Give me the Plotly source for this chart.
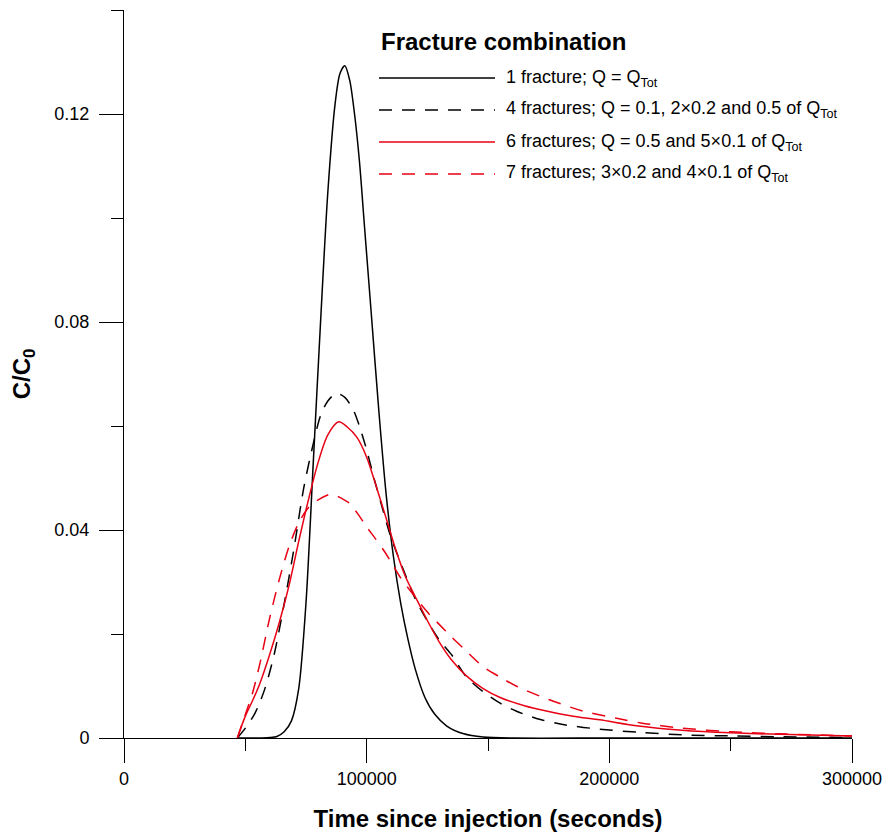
import plotly.graph_objects as go

# ---------------- data ----------------
x_1frac = [47000, 55000, 60000, 63000, 66000, 69000, 72000, 75000, 78000, 81000, 84000, 87000, 89000, 91000,
           93000, 95000, 97000, 99000, 102000, 105000, 108000, 111000, 114000, 117000, 120000, 124000, 128000,
           133000, 140000, 148000, 160000, 200000, 250000, 300000]
y_1frac = [0, 0, 0.0001, 0.0003, 0.0012, 0.0033, 0.0095, 0.026, 0.053, 0.080, 0.105, 0.122, 0.1278, 0.1293,
           0.1265, 0.120, 0.111, 0.099, 0.081, 0.063, 0.047, 0.035, 0.026, 0.019, 0.0133, 0.0078, 0.0046,
           0.0023, 0.0008, 0.0002, 0, 0, 0, 0]

x_4frac = [46700, 50000, 54000, 58000, 62000, 66000, 70000, 74000, 78000, 81000, 84000, 87500, 91000, 94500,
           97000, 100000, 103000, 106000, 110000, 115000, 120000, 125000, 130000, 135000, 141000, 148000,
           155000, 162000, 172000, 182000, 196000, 212000, 230000, 250000, 270000, 300000]
y_4frac = [0, 0.0019, 0.0048, 0.0094, 0.0163, 0.0258, 0.0363, 0.0479, 0.0566, 0.062, 0.0648, 0.0663, 0.0655,
           0.0631, 0.060, 0.0554, 0.050, 0.045, 0.0386, 0.0325, 0.0268, 0.0225, 0.0188, 0.016, 0.0118, 0.0089,
           0.0067, 0.0051, 0.0035, 0.0025, 0.0017, 0.0011, 0.0006, 0.0004, 0.00025, 0.0001]

x_6frac = [46700, 50000, 53000, 56000, 60000, 64000, 68000, 72000, 76000, 80000, 84000, 88500, 92000, 96000,
           100000, 104000, 108000, 112000, 116000, 120000, 125000, 130000, 135000, 141000, 148000, 155000,
           165000, 175000, 185000, 196000, 212000, 230000, 250000, 270000, 300000]
y_6frac = [0, 0.0042, 0.0072, 0.0105, 0.016, 0.0222, 0.0293, 0.0378, 0.0458, 0.053, 0.0583, 0.0608, 0.0598,
           0.0578, 0.054, 0.0483, 0.0423, 0.0362, 0.031, 0.0272, 0.0226, 0.0184, 0.015, 0.012, 0.0095,
           0.0078, 0.0062, 0.0051, 0.0042, 0.0035, 0.0023, 0.0015, 0.001, 0.0007, 0.0004]

x_7frac = [46700, 50000, 53000, 56000, 60000, 64000, 68000, 72000, 76000, 80000, 85500, 90000, 93000, 96500,
           100000, 103500, 107000, 110500, 114000, 118000, 122000, 126000, 130000, 135000, 140000, 148000,
           155000, 162000, 175000, 189000, 203000, 213000, 230000, 250000, 270000, 300000]
y_7frac = [0, 0.0045, 0.0087, 0.0143, 0.023, 0.0305, 0.0368, 0.0414, 0.0443, 0.0458, 0.0469, 0.046, 0.0451,
           0.043, 0.0406, 0.0384, 0.0361, 0.0335, 0.0308, 0.0283, 0.0259, 0.0237, 0.0218, 0.0194, 0.0172,
           0.0137, 0.0117, 0.0099, 0.0074, 0.0052, 0.0038, 0.0029, 0.0019, 0.0012, 0.0008, 0.0004]

series_names = [
    "1 fracture; Q = Q<sub>Tot</sub>",
    "4 fractures; Q = 0.1, 2×0.2 and 0.5 of Q<sub>Tot</sub>",
    "6 fractures; Q = 0.5 and 5×0.1 of Q<sub>Tot</sub>",
    "7 fractures; 3×0.2 and 4×0.1 of Q<sub>Tot</sub>",
]
legend_title = "Fracture combination"

x_ticks = [0, 100000, 200000, 300000]
y_ticks = [0, 0.04, 0.08, 0.12]

# ---------------- styling ----------------
RED = "rgb(232,0,20)"
BLACK = "black"
DASH = "13px,10px"
styles = [
    dict(color=BLACK, dash="solid"),
    dict(color=BLACK, dash=DASH),
    dict(color=RED, dash="solid"),
    dict(color=RED, dash=DASH),
]
FONT = "Liberation Sans, Arial, sans-serif"

fig = go.Figure()
for xs, ys, st, name in zip([x_1frac, x_4frac, x_6frac, x_7frac],
                            [y_1frac, y_4frac, y_6frac, y_7frac], styles, series_names):
    fig.add_trace(go.Scatter(x=xs, y=ys, mode="lines", name=name, showlegend=False,
                             line=dict(color=st["color"], dash=st["dash"], width=1.5,
                                       shape="spline", smoothing=0.8)))

W, H = 886, 838
L, R, T, B = 124, 34, 10, 100
pw, ph = W - L - R, H - T - B


def px_x(p):
    return (p - L) / pw


def px_y(p):
    return (H - B - p) / ph


# manual legend
shapes = []
annotations = [dict(x=px_x(379), y=px_y(42), xref="paper", yref="paper", text="<b>" + legend_title + "</b>",
                    showarrow=False, xanchor="left", yanchor="middle",
                    font=dict(family=FONT, size=24, color="black"))]
rows = [78, 110, 142, 174]
for ry, st, name in zip(rows, styles, series_names):
    shapes.append(dict(type="line", xref="paper", yref="paper", x0=px_x(379), x1=px_x(495),
                       y0=px_y(ry), y1=px_y(ry),
                       line=dict(color=st["color"], dash=st["dash"], width=1.5)))
    annotations.append(dict(x=px_x(504), y=px_y(ry), xref="paper", yref="paper", text=name,
                            showarrow=False, xanchor="left", yanchor="middle",
                            font=dict(family=FONT, size=18, color="black")))

fig.update_layout(
    width=W, height=H,
    margin=dict(l=L, r=R, t=T, b=B, autoexpand=False),
    paper_bgcolor="white", plot_bgcolor="white",
    font=dict(family=FONT, size=18, color="black"),
    shapes=shapes, annotations=annotations,
    xaxis=dict(range=[0, 300000], tickvals=x_ticks, tickformat="d", ticks="outside", ticklen=24,
               tickwidth=1, tickcolor="black", showline=True, linecolor="black", linewidth=1,
               showgrid=False, zeroline=False,
               minor=dict(dtick=50000, ticks="outside", ticklen=12, tickwidth=1, tickcolor="black"),
               title=dict(text="<b>Time since injection (seconds)</b>", font=dict(size=24), standoff=22),
               automargin=False),
    yaxis=dict(range=[0, 0.14], tickvals=y_ticks, ticks="outside", ticklen=24,
               tickwidth=1, tickcolor="black", showline=True, linecolor="black", linewidth=1,
               showgrid=False, zeroline=False, ticklabelstandoff=6,
               minor=dict(tickvals=[0.02, 0.06, 0.10, 0.14], ticks="outside", ticklen=12, tickwidth=1,
                          tickcolor="black"),
               title=dict(text="<b>C/C<sub>0</sub></b>", font=dict(size=24), standoff=16),
               automargin=False),
)

fig.write_html("out.html")
